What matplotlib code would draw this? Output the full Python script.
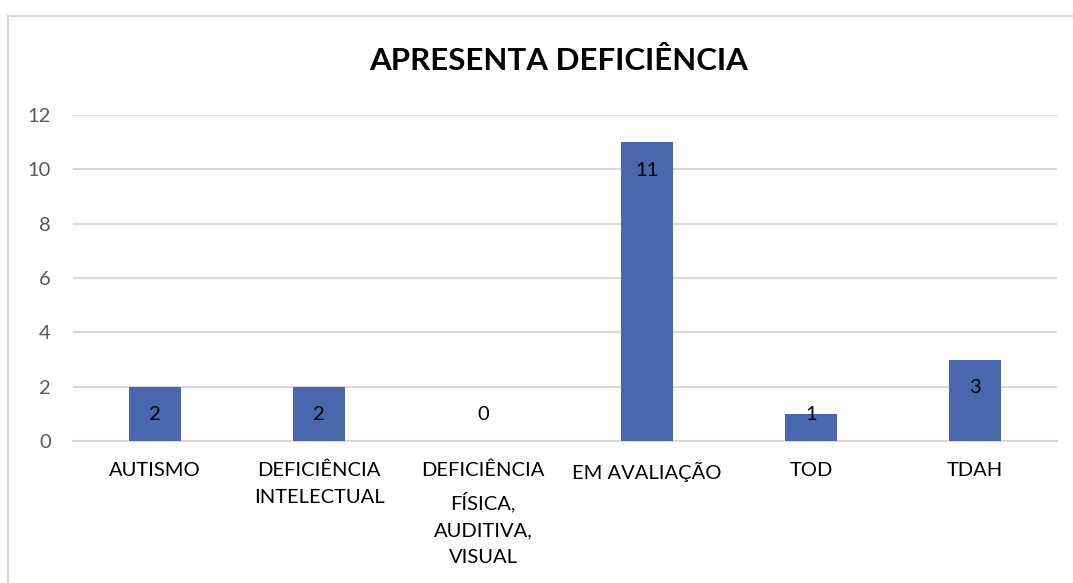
import matplotlib
matplotlib.use("Agg")
import matplotlib.pyplot as plt
from matplotlib.patches import Rectangle

# data
categories = [
    "AUTISMO",
    "DEFICIÊNCIA\nINTELECTUAL",
    "DEFICIÊNCIA\nFÍSICA,\nAUDITIVA,\nVISUAL",
    "EM AVALIAÇÃO",
    "TOD",
    "TDAH",
]
values = [2, 2, 0, 11, 1, 3]
y_ticks = [0, 2, 4, 6, 8, 10, 12]

plt.rcParams['font.family'] = ['Lato', 'DejaVu Sans']

W, H = 1073, 583
fig = plt.figure(figsize=(W / 100, H / 100), dpi=100)

# chart border (cut off on right and bottom like the reference)
fig.add_artist(Rectangle((8 / W, -0.1), 1.2, 1 - 16 / H + 0.1, transform=fig.transFigure,
                         fill=False, edgecolor="#D9D9D9", linewidth=1.5))

left, right = 73 / W, 1057 / W
top, bottom = 1 - 115 / H, 1 - 441 / H
ax = fig.add_axes([left, bottom, right - left, top - bottom])

x = list(range(len(categories)))
ax.bar(x, values, width=0.32, color="#4A66AC", zorder=3)

# labels inside the end of each bar, kept above the axis for short bars
for xi, v in zip(x, values):
    ax.text(xi, max(v - 1.03, 0.97), str(v), ha="center", va="center",
            fontsize=14.5, color="#000000", zorder=4)

ax.set_xlim(-0.5, len(categories) - 0.5)
ax.set_ylim(0, 12)
ax.set_yticks(y_ticks)
ax.grid(axis="y", color="#D9D9D9", linewidth=1.5, zorder=0)
ax.set_axisbelow(True)

for side in ["top", "right", "left"]:
    ax.spines[side].set_visible(False)
ax.spines["bottom"].set_color("#D9D9D9")
ax.spines["bottom"].set_linewidth(1.5)

ax.tick_params(axis="both", length=0)
ax.tick_params(axis="y", labelsize=14.5, labelcolor="#595959", pad=16)
ax.set_xticks(x)
ax.set_xticklabels(categories, fontsize=14.5, color="#000000", linespacing=1.7, va="top")
ax.tick_params(axis="x", pad=15)

fig.text(558.5 / W, 1 - 61 / H, "APRESENTA DEFICIÊNCIA", ha="center", va="center",
         fontsize=22.5, fontweight="bold", color="#000000")

fig.savefig("out.png", dpi=100)
